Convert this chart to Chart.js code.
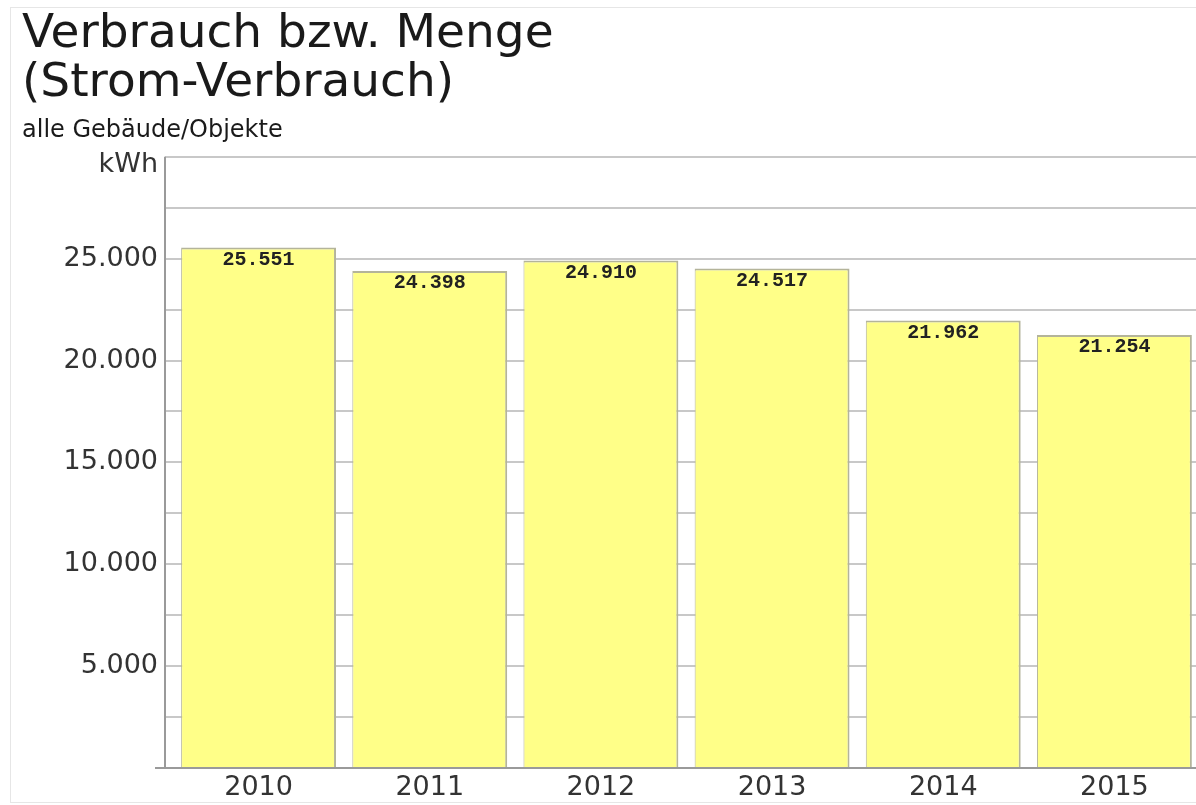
<!DOCTYPE html>
<html>
<head>
<meta charset="utf-8">
<script src="https://cdn.jsdelivr.net/npm/chart.js@4.4.1/dist/chart.umd.min.js"></script>
<style>
  html, body { margin: 0; padding: 0; background: #ffffff; overflow: hidden; width: 1196px; height: 805px; }
  #frame { position: absolute; left: 10px; top: 7px; width: 1200px; height: 796px; border: 1px solid #e6e6e6; box-sizing: border-box; }
  #c { position: absolute; left: 0; top: 0; }
</style>
</head>
<body>
<div id="frame"></div>
<canvas id="c" width="1200" height="805"></canvas>
<script>
const titleLines = ['Verbrauch bzw. Menge', '(Strom-Verbrauch)'];
const subtitleText = 'alle Gebäude/Objekte';
const unitLabel = 'kWh';
const years = ['2010', '2011', '2012', '2013', '2014', '2015'];
const consumption = [25551, 24398, 24910, 24517, 21962, 21254];
const yMin = 0;
const yMax = 30000;
const yStep = 2500;
const yLabelStep = 5000;

function fmt(v) {
  return String(Math.round(v)).replace(/\B(?=(\d{3})+(?!\d))/g, '.');
}

const decor = {
  id: 'decor',
  afterDatasetsDraw(chart) {
    const ctx = chart.ctx;
    const a = chart.chartArea;
    const meta = chart.getDatasetMeta(0);
    ctx.save();
    // value labels inside bars
    ctx.font = 'bold 20px "Liberation Mono", "Courier New", monospace';
    ctx.fillStyle = '#222222';
    ctx.textAlign = 'center';
    ctx.textBaseline = 'middle';
    meta.data.forEach((bar, i) => {
      ctx.fillText(fmt(consumption[i]), bar.x, bar.y + 12);
    });
    // axis lines
    ctx.strokeStyle = '#9a9a9a';
    ctx.lineWidth = 2;
    ctx.beginPath();
    ctx.moveTo(a.left - 8, a.top);
    ctx.lineTo(a.left - 8, a.bottom);
    ctx.stroke();
    ctx.beginPath();
    ctx.moveTo(a.left - 18, a.bottom);
    ctx.lineTo(a.right, a.bottom);
    ctx.stroke();
    // unit label
    ctx.font = '27px "DejaVu Sans", Verdana, sans-serif';
    ctx.fillStyle = '#333333';
    ctx.textAlign = 'right';
    ctx.textBaseline = 'middle';
    ctx.fillText(unitLabel, a.left - 15, a.top + 8);
    ctx.restore();
  }
};

new Chart(document.getElementById('c'), {
  type: 'bar',
  data: {
    labels: years,
    datasets: [{
      data: consumption,
      backgroundColor: '#ffff88',
      borderColor: '#b4b49a',
      borderWidth: { top: 2, right: 2, left: 1, bottom: 0 },
      borderSkipped: false,
      categoryPercentage: 1.0,
      barPercentage: 0.905
    }]
  },
  options: {
    responsive: false,
    animation: false,
    layout: { padding: { left: 22, right: 0, top: 0, bottom: 0 } },
    plugins: {
      legend: { display: false },
      tooltip: { enabled: false },
      title: {
        display: true,
        text: titleLines,
        align: 'start',
        color: '#1a1a1a',
        font: { family: '"DejaVu Sans", Verdana, sans-serif', size: 47, weight: 'normal', lineHeight: 1.043 },
        padding: { top: 10, bottom: 0 }
      },
      subtitle: {
        display: true,
        text: subtitleText,
        align: 'start',
        color: '#1a1a1a',
        font: { family: '"DejaVu Sans", Verdana, sans-serif', size: 24, weight: 'normal', lineHeight: 1.2 },
        padding: { top: 8, bottom: 12 }
      }
    },
    scales: {
      x: {
        grid: { display: false, drawTicks: false },
        border: { display: false },
        ticks: {
          color: '#333333',
          font: { family: '"DejaVu Sans", Verdana, sans-serif', size: 27 },
          padding: 4,
          maxRotation: 0
        },
        afterFit(scale) { scale.height = 37; }
      },
      y: {
        min: yMin,
        max: yMax,
        grid: { color: '#c8c8c8', lineWidth: 2, tickLength: 8, tickColor: '#c8c8c8' },
        border: { display: false },
        ticks: {
          stepSize: yStep,
          color: '#333333',
          font: { family: '"DejaVu Sans", Verdana, sans-serif', size: 27 },
          padding: 7,
          callback: (v) => (v % yLabelStep === 0 && v !== yMin && v !== yMax) ? fmt(v) : ''
        },
        afterFit(scale) { scale.width = 151; }
      }
    }
  },
  plugins: [decor]
});
</script>
</body>
</html>
